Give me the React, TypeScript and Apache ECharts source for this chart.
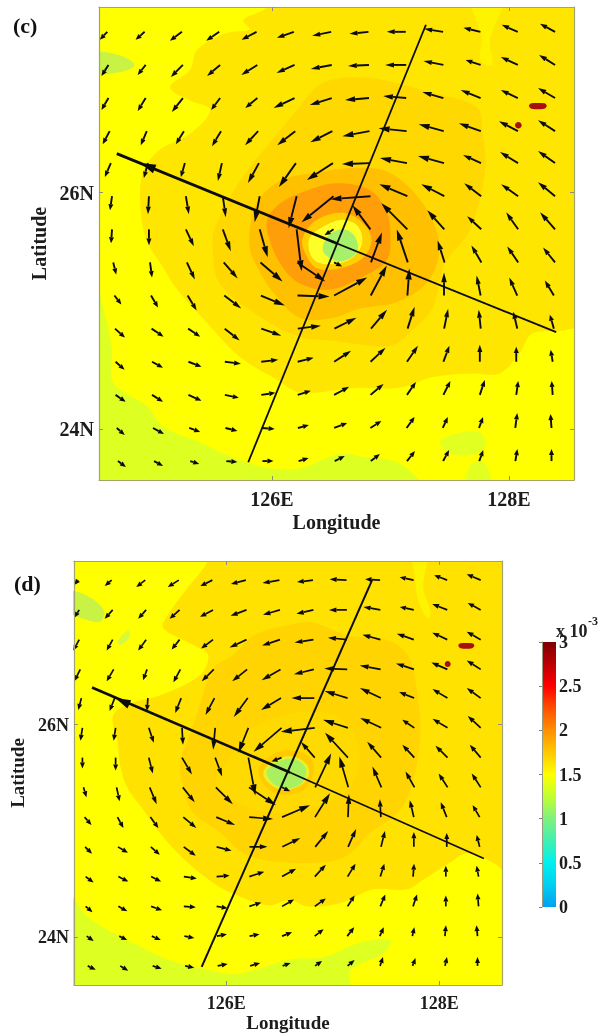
import React, { useEffect, useRef } from "react";
import * as echarts from "echarts";

const FONT = '"Liberation Serif", "Times New Roman", serif';
const INK = "#1c1c1c";
const FRAME = "#A3A36C";

const lonTicks = [126, 128];
const latTicks = [24, 26];
const barTickStep = 0.5;

// Quiver tails: one latitude per row, first/last tail longitude per row.
const rowLat = [27.36, 27.08, 26.8, 26.52, 26.25, 25.97, 25.69, 25.41, 25.13, 24.85, 24.57, 24.29, 24.01, 23.73];
const rowLonStart = [124.61, 124.62, 124.62, 124.63, 124.64, 124.65, 124.65, 124.66, 124.67, 124.675, 124.68, 124.68, 124.69, 124.7];
const rowLonEnd = [128.39, 128.39, 128.39, 128.39, 128.39, 128.39, 128.39, 128.39, 128.38, 128.38, 128.37, 128.37, 128.36, 128.36];

const uC = [
  [-7.5, -9, -12, -13, -15, -17, -19, -19, -19, -19, -17, -16, -15],
  [-7, -8, -12, -13, -16, -18, -21, -21, -21, -20, -15, -17, -16],
  [-7, -8, -11, -9, -12, -21, -22, -24, -23, -21, -20, -17, -17],
  [-7, -6, -8, -9, -13, -18, -22, -27, -28, -25, -22, -19, -17],
  [-6, -4, -4, -4, -11, -17, -26, -28, -27, -26, -18, -18, -17],
  [-2, -1, 3, 3, -5, -8, -32, -40, -28, -23, -17, -17, -17],
  [-1, 0, 8, 8, 8, 5, -9, -18, -26, -17, -14, -12, -15],
  [3, 2, 8, 14, 22, 28, 8, 11, -11, -7, -10, -11, -12],
  [7, 7, 9, 17, 24, 32, 33, 16, 2, 0, -4, -8, -9],
  [10, 12, 12, 15, 20, 23, 22, 16, 7, 4, -2, -4, -4],
  [9, 11, 13, 16, 17, 16, 17, 15, 11, 6, 0, 0, -2],
  [10, 11, 13, 14, 14, 13, 15, 13, 9, 7, 5, 2, -1],
  [8, 11, 11, 12, 13, 11, 13, 11, 8, 5, 4, 2, -1],
  [8, 9, 9, 11, 11, 10, 10, 9, 8, 6, 4, 2, 0],
];
const vC = [
  [-8, -8, -9, -9, -8, -6, -4, -2, 0, 3, 4, 7, 8],
  [-11, -10, -12, -11, -10, -8, -4, -1, 0, 4, 5, 8, 10],
  [-12, -13, -14, -12, -10, -10, -7, -2, 2, 6, 8, 8, 10],
  [-13, -14, -13, -15, -14, -14, -11, -5, 3, 7, 8, 10, 11],
  [-14, -15, -14, -18, -20, -24, -17, -1, 5, 7, 8, 11, 12],
  [-14, -18, -18, -21, -26, -32, -26, -3, 12, 12, 13, 12, 14],
  [-14, -16, -17, -22, -28, -42, -6, 24, 26, 19, 13, 17, 17],
  [-12, -15, -17, -16, -19, -19, -4, 30, 33, 22, 17, 16, 15],
  [-9, -12, -15, -13, -10, -1, 18, 30, 27, 23, 20, 18, 15],
  [-9, -8, -8, -12, -7, 3, 11, 19, 22, 20, 19, 17, 14],
  [-8, -6, -5, -2, 2, 4, 11, 14, 16, 16, 17, 15, 12],
  [-7, -7, -6, -3, 2, 4, 8, 11, 13, 14, 15, 14, 14],
  [-7, -6, -4, -3, -1, 3, 5, 7, 11, 11, 11, 15, 14],
  [-6, -5, -3, -1, 0, 3, 5, 7, 10, 11, 11, 12, 12],
];

const uD = [
  [-4, -7, -9, -11, -12, -15, -17, -16, -17, -15, -14, -13, -14],
  [-5, -8, -8, -10, -13, -16, -17, -17, -18, -17, -14, -15, -13],
  [-6, -6, -8, -8, -12, -17, -18, -19, -19, -18, -17, -15, -14],
  [-6, -7, -4, -7, -12, -15, -19, -20, -23, -21, -18, -16, -14],
  [-3, -5, -1, -6, -9, -14, -20, -23, -23, -21, -15, -15, -14],
  [-2, -2, 5, 1, -2, -10, -28, -34, -25, -21, -12, -15, -13],
  [0, 0, 4, 10, 7, 7, -10, -14, -23, -14, -12, -12, -11],
  [3, 3, 7, 12, 17, 27, 8, 16, -9, -9, -9, -9, -9],
  [7, 6, 8, 13, 19, 24, 28, 15, 1, -1, -4, -6, -7],
  [7, 10, 9, 12, 15, 18, 18, 13, 8, 4, 0, 0, -3],
  [8, 10, 10, 13, 13, 15, 14, 11, 8, 4, 1, 0, -2],
  [7, 9, 11, 12, 11, 12, 12, 11, 7, 5, 4, 0, -1],
  [7, 8, 9, 10, 10, 10, 10, 9, 7, 4, 2, 1, -1],
  [8, 8, 9, 9, 10, 10, 8, 7, 7, 3, 3, 2, 0],
];
const vD = [
  [-5, -6, -7, -7, -6, -4, -3, -2, 1, 1, 3, 5, 6],
  [-8, -9, -9, -9, -7, -6, -5, -4, 0, 3, 3, 6, 7],
  [-11, -11, -11, -10, -9, -8, -6, -3, 2, 5, 6, 7, 8],
  [-12, -12, -11, -13, -12, -12, -11, -5, 1, 4, 6, 7, 9],
  [-12, -13, -13, -15, -17, -19, -12, 0, 7, 10, 6, 9, 10],
  [-13, -13, -15, -17, -22, -25, -24, -4, 8, 10, 8, 9, 12],
  [-11, -13, -16, -17, -19, -38, -4, 16, 25, 16, 13, 12, 13],
  [-10, -14, -17, -15, -17, -18, -4, 34, 31, 21, 16, 14, 14],
  [-8, -11, -11, -11, -8, -2, 12, 24, 23, 18, 17, 15, 12],
  [-7, -6, -8, -9, -4, 0, 9, 16, 18, 16, 15, 14, 12],
  [-6, -5, -5, -2, 1, 5, 8, 12, 13, 13, 13, 11, 11],
  [-6, -5, -4, -1, -2, 4, 7, 8, 11, 12, 12, 11, 13],
  [-5, -4, -4, -2, 2, 2, 4, 7, 9, 9, 9, 11, 11],
  [-4, -5, -3, -2, 2, 3, 3, 5, 6, 9, 8, 9, 9],
];

// Transects, [lon, lat]
const transectAC = [[124.69, 26.33], [126.55, 25.57]];
const transectAC2 = [[126.55, 25.57], [128.4, 24.82]];
const transectBC = [[125.8, 23.72], [127.3, 27.42]];
const transectAD = [[124.74, 26.35], [126.6, 25.55]];
const transectAD2 = [[126.6, 25.55], [128.42, 24.74]];
const transectBD = [[125.77, 23.72], [127.37, 27.36]];
const headC = [124.89, 26.25, 125.01, 26.2];
const headD = [124.96, 26.25, 125.09, 26.19];

// Filled contour outlines, [lon, lat]
const cBand = [[124.5, 25.29], [124.58, 25.01], [124.65, 24.67], [124.66, 24.39], [124.95, 24.19], [125.08, 24.02], [125.39, 23.89], [125.67, 23.76], [125.98, 23.67], [126.24, 23.67], [126.57, 23.79], [126.8, 23.76], [127.08, 23.71], [127.25, 23.5], [124.5, 23.5]];
const cPatchTL = [[124.5, 27.18], [124.72, 27.16], [124.84, 27.08], [124.72, 27.02], [124.5, 27.02]];
const cPatchBR = [[127.42, 23.9], [127.59, 23.97], [127.76, 23.97], [127.8, 23.85], [127.67, 23.78], [127.5, 23.8]];
const cPatchB = [[127.65, 23.5], [127.67, 23.69], [127.8, 23.71], [127.84, 23.5]];
const cGold = [[125.98, 27.7], [125.96, 27.57], [125.76, 27.46], [125.81, 27.38], [125.62, 27.35], [125.37, 27.21], [125.31, 27.04], [125.14, 26.89], [125.31, 26.78], [125.48, 26.7], [125.31, 26.5], [125.05, 26.36], [124.91, 26.17], [124.89, 25.88], [124.94, 25.6], [125.08, 25.37], [125.2, 25.18], [125.45, 24.9], [125.73, 24.61], [126.04, 24.42], [126.24, 24.31], [126.72, 24.35], [127.08, 24.35], [127.36, 24.44], [127.7, 24.47], [127.92, 24.47], [128.09, 24.64], [128.2, 24.81], [128.49, 24.84], [128.7, 24.95], [128.7, 27.7]];
const cStrip = [[127.67, 27.7], [127.97, 27.7], [127.84, 27.29], [127.86, 27.08], [127.76, 27.12], [127.77, 27.31]];
const cAmber = [[126.43, 26.93], [126.21, 26.7], [125.98, 26.42], [125.73, 26.1], [125.52, 25.71], [125.5, 25.51], [125.56, 25.23], [125.9, 24.95], [126.24, 24.78], [126.51, 24.75], [126.8, 24.71], [127.02, 24.71], [127.19, 24.84], [127.36, 25.03], [127.46, 25.4], [127.67, 25.68], [127.8, 26.19], [127.78, 26.49], [127.73, 26.72], [127.33, 26.85], [126.83, 26.97]];
const cOrange = [[125.84, 25.83], [125.92, 25.98], [126.09, 26.11], [126.38, 26.17], [126.72, 26.21], [126.99, 26.17], [127.25, 25.94], [127.4, 25.64], [127.39, 25.39], [127.27, 25.2], [127.04, 25.07], [126.74, 25.02], [126.51, 24.94], [126.24, 24.94], [126.03, 25.13], [125.88, 25.36], [125.81, 25.55]];
const cDeep = [[125.96, 25.77], [126.07, 25.91], [126.3, 26.02], [126.55, 26.08], [126.83, 26.02], [126.97, 25.83], [127.0, 25.62], [126.97, 25.43], [126.77, 25.29], [126.49, 25.18], [126.24, 25.23], [126.09, 25.37], [125.98, 25.6]];
const cCore1 = [[126.26, 25.62], [126.38, 25.77], [126.6, 25.83], [126.77, 25.74], [126.84, 25.6], [126.77, 25.45], [126.57, 25.36], [126.38, 25.36], [126.28, 25.49]];
const cCore2 = [[126.32, 25.62], [126.43, 25.71], [126.6, 25.77], [126.73, 25.71], [126.76, 25.57], [126.68, 25.45], [126.55, 25.4], [126.39, 25.41], [126.32, 25.49]];
const cCore3 = [[126.47, 25.63], [126.6, 25.69], [126.7, 25.63], [126.72, 25.5], [126.6, 25.42], [126.5, 25.44], [126.43, 25.51]];
const cSpotBar = [[128.19, 26.755], [128.3, 26.755], [128.32, 26.735], [128.3, 26.71], [128.19, 26.71], [128.17, 26.735]];
const cSpotDot = [[128.08, 26.598], [128.1, 26.59], [128.108, 26.57], [128.1, 26.55], [128.08, 26.542], [128.06, 26.55], [128.052, 26.57], [128.06, 26.59]];

// Filled contour outlines, [lon, lat]
const dBand = [[124.5, 24.42], [124.7, 24.19], [124.94, 24.04], [125.2, 23.91], [125.45, 23.79], [125.83, 23.69], [126.07, 23.65], [126.26, 23.69], [126.6, 23.79], [126.91, 23.81], [127.26, 23.95], [127.54, 23.97], [127.48, 23.85], [127.17, 23.69], [127.14, 23.5], [124.5, 23.5]];
const dPatchTL = [[124.5, 27.25], [124.68, 27.22], [124.85, 27.08], [124.82, 26.97], [124.68, 26.99], [124.5, 27.08]];
const dPatchT2 = [[124.98, 26.78], [125.08, 26.89], [125.09, 26.82], [125.01, 26.75]];
const dGold = [[125.85, 27.7], [125.83, 27.54], [125.64, 27.29], [125.45, 27.03], [125.41, 26.91], [125.69, 26.75], [125.83, 26.66], [125.76, 26.47], [125.39, 26.28], [125.13, 26.21], [124.94, 26.09], [124.98, 25.84], [125.01, 25.59], [125.08, 25.39], [125.2, 25.23], [125.41, 24.94], [125.64, 24.7], [125.88, 24.51], [126.04, 24.42], [126.39, 24.3], [126.6, 24.35], [126.76, 24.29], [127.07, 24.32], [127.38, 24.45], [127.7, 24.45], [127.85, 24.54], [128.1, 24.7], [128.26, 24.79], [128.51, 24.7], [128.7, 24.57], [128.7, 27.7]];
const dStrip = [[127.73, 27.7], [127.9, 27.7], [127.85, 27.29], [127.92, 27.06], [127.89, 27.0], [127.8, 27.18], [127.77, 27.41]];
const dAmber = [[126.6, 26.94], [126.26, 26.84], [126.07, 26.66], [125.88, 26.53], [125.76, 26.21], [125.67, 25.93], [125.57, 25.65], [125.6, 25.4], [125.69, 25.17], [125.95, 24.98], [126.16, 24.79], [126.48, 24.71], [126.95, 24.71], [127.17, 24.79], [127.35, 24.98], [127.61, 25.17], [127.73, 25.39], [127.82, 25.86], [127.79, 26.33], [127.7, 26.66], [127.51, 26.8], [127.14, 26.84], [126.82, 26.96]];
const dRing = [[126.04, 25.7], [126.14, 25.88], [126.39, 26.04], [126.76, 26.12], [127.07, 26.06], [127.23, 25.83], [127.23, 25.55], [127.07, 25.32], [126.7, 25.18], [126.28, 25.2], [125.99, 25.34], [125.9, 25.48]];
const dCore1 = [[126.3, 25.57], [126.42, 25.71], [126.6, 25.76], [126.79, 25.69], [126.82, 25.55], [126.73, 25.39], [126.54, 25.34], [126.39, 25.4]];
const dCore2 = [[126.35, 25.55], [126.46, 25.67], [126.63, 25.7], [126.76, 25.62], [126.77, 25.51], [126.67, 25.41], [126.51, 25.39], [126.4, 25.45]];
const dCore3 = [[126.38, 25.56], [126.51, 25.66], [126.66, 25.67], [126.75, 25.58], [126.71, 25.45], [126.58, 25.4], [126.45, 25.44]];
const dSpotBar = [[128.2, 26.765], [128.31, 26.765], [128.33, 26.745], [128.31, 26.72], [128.2, 26.72], [128.18, 26.745]];
const dSpotDot = [[128.08, 26.598], [128.1, 26.59], [128.108, 26.57], [128.1, 26.55], [128.08, 26.542], [128.06, 26.55], [128.052, 26.57], [128.06, 26.59]];

const barStopValues = [0, 0.25, 0.5, 0.75, 1, 1.25, 1.5, 1.75, 2, 2.25, 2.5, 2.8, 3];
const barStopColors = ["#00A0F0", "#00D0F0", "#00F0F0", "#40F0B0", "#80F080", "#C0FF30", "#FFFF00", "#FFC800", "#FF9000", "#FF5000", "#FF0000", "#B00000", "#800000"];

const contoursC: [number[][], string][] = [
  [cBand, "#DEFF22"], [cPatchTL, "#C8F244"], [cPatchBR, "#E2FF22"], [cPatchB, "#E2FF22"],
  [cGold, "#FFE600"], [cStrip, "#FFF400"], [cAmber, "#FFD800"], [cOrange, "#FFC000"], [cDeep, "#FF9E08"],
  [cCore1, "#FFD000"], [cCore2, "#FFFF28"], [cCore3, "#A6F06A"],
  [cSpotBar, "#A81010"], [cSpotDot, "#A81010"],
];
const contoursD: [number[][], string][] = [
  [dBand, "#DEFF22"], [dPatchTL, "#C8F244"], [dPatchT2, "#D8F83A"],
  [dGold, "#FFE200"], [dStrip, "#FFF400"], [dAmber, "#FFD400"], [dRing, "#FFDA00"],
  [dCore1, "#FFCA00"], [dCore2, "#E6F22C"], [dCore3, "#A8F060"],
  [dSpotBar, "#A81010"], [dSpotDot, "#A81010"],
];

const quiverData = (u: number[][], v: number[][]) => {
  const out: number[][] = [];
  rowLat.forEach((lat, j) => {
    u[j].forEach((uu, i) => {
      const lon = rowLonStart[j] + ((rowLonEnd[j] - rowLonStart[j]) * i) / 12;
      out.push([lon, lat, uu, v[j][i]]);
    });
  });
  return out;
};

const arrowItem = (q: number, lw: number) => (_: any, api: any) => {
  const lon = api.value(0), lat = api.value(1);
  const a = api.coord([lon, lat]);
  const b = api.coord([lon + api.value(2) * q, lat + api.value(3) * q]);
  const dx = b[0] - a[0], dy = b[1] - a[1];
  const L = Math.hypot(dx, dy) || 1;
  const ux = dx / L, uy = dy / L;
  const hl = Math.min(11, Math.max(6, L * 0.42));
  const hw = Math.min(3.2, Math.max(2.5, L * 0.12));
  const bx = b[0] - ux * hl, by = b[1] - uy * hl;
  return {
    type: "group",
    children: [
      { type: "line", shape: { x1: a[0], y1: a[1], x2: bx, y2: by }, style: { stroke: "#0c0c0c", lineWidth: lw } },
      { type: "polygon", shape: { points: [[b[0], b[1]], [bx - uy * hw, by + ux * hw], [bx + uy * hw, by - ux * hw]] }, style: { fill: "#0c0c0c" } },
    ],
  };
};

const contourSeries = (list: [number[][], string][], g: number) => ({
  type: "custom",
  xAxisIndex: g,
  yAxisIndex: g,
  clip: true,
  silent: true,
  z: 2,
  data: list.map((_, i) => [i, i]),
  renderItem: (_: any, api: any) => {
    const [pts, color] = list[api.value(0)];
    return {
      type: "polygon",
      shape: { points: pts.map((p) => api.coord(p)), smooth: 0.35 },
      style: { fill: color },
    };
  },
});

const lineSeries = (pts: number[][], g: number, width: number) => ({
  type: "line",
  xAxisIndex: g,
  yAxisIndex: g,
  data: pts,
  showSymbol: false,
  silent: true,
  z: 3,
  lineStyle: { color: "#0c0c0c", width },
});

const headSeries = (h: number[], g: number) => ({
  type: "custom",
  xAxisIndex: g,
  yAxisIndex: g,
  silent: true,
  z: 4,
  data: [h],
  renderItem: (_: any, api: any) => {
    const tip = api.coord([api.value(0), api.value(1)]);
    const base = api.coord([api.value(2), api.value(3)]);
    const dx = base[0] - tip[0], dy = base[1] - tip[1];
    const L = Math.hypot(dx, dy) || 1;
    const nx = -dy / L, ny = dx / L;
    return {
      type: "polygon",
      shape: { points: [tip, [base[0] + nx * 4.5, base[1] + ny * 4.5], [base[0] - nx * 4.5, base[1] - ny * 4.5]] },
      style: { fill: "#0c0c0c" },
    };
  },
});

const quiverSeries = (u: number[][], v: number[][], g: number, q: number, lw: number) => ({
  type: "custom",
  xAxisIndex: g,
  yAxisIndex: g,
  clip: true,
  silent: true,
  z: 5,
  data: quiverData(u, v),
  renderItem: arrowItem(q, lw),
});

const labelStyle = (size: number) => ({ fontFamily: FONT, fontWeight: "bold" as const, fontSize: size, color: INK });
const tick = { show: true, inside: true, length: 4, lineStyle: { color: "#8f8f70", width: 1 } };

const panelAxes = (
  gridIndex: number, lonMin: number, lonMax: number, latMin: number, latMax: number,
  labelSize: number, nameSize: number, nameGapX: number, nameGapY: number,
) => {
  const axisLine = { show: true, onZero: false, lineStyle: { color: FRAME, width: 1.2 } };
  const nameStyle = { fontFamily: FONT, fontWeight: "bold" as const, fontSize: nameSize, color: INK };
  const x = (position: string, main: boolean) => ({
    type: "value", gridIndex, position, min: lonMin, max: lonMax, z: 10,
    splitLine: { show: false }, axisLine,
    axisTick: { ...tick, customValues: lonTicks },
    axisLabel: main
      ? { show: true, customValues: lonTicks, margin: 9, formatter: (v: number) => `${v}E`, ...labelStyle(labelSize) }
      : { show: false },
    ...(main ? { name: "Longitude", nameLocation: "middle", nameGap: nameGapX, nameTextStyle: nameStyle } : {}),
  });
  const y = (position: string, main: boolean) => ({
    type: "value", gridIndex, position, min: latMin, max: latMax, z: 10,
    splitLine: { show: false }, axisLine,
    axisTick: { ...tick, customValues: latTicks },
    axisLabel: main
      ? { show: true, customValues: latTicks, margin: 5, formatter: (v: number) => `${v}N`, ...labelStyle(labelSize) }
      : { show: false },
    ...(main ? { name: "Latitude", nameLocation: "middle", nameGap: nameGapY, nameTextStyle: nameStyle } : {}),
  });
  return { xs: [x("bottom", true), x("top", false)], ys: [y("left", true), y("right", false)] };
};

export default function App() {
  const ref = useRef<HTMLDivElement>(null);
  useEffect(() => {
    const chart = echarts.init(ref.current!, undefined, { renderer: "svg" });
    const c = panelAxes(0, 124.54, 128.55, 23.57, 27.57, 20, 20, 32, 47);
    const d = panelAxes(1, 124.57, 128.59, 23.55, 27.54, 18, 19, 28, 43);
    const xAxis: any[] = [
      c.xs[0], d.xs[0],
      { type: "value", gridIndex: 2, min: 0, max: 1, z: 10, show: false },
      c.xs[1], d.xs[1],
    ];
    const yAxis: any[] = [
      c.ys[0], d.ys[0],
      {
        type: "value", gridIndex: 2, position: "right", min: 0, max: 3, interval: barTickStep, z: 10,
        splitLine: { show: false },
        axisLine: { show: true, lineStyle: { color: "#9a9a80", width: 1 } },
        axisTick: { show: true, inside: true, length: 3, lineStyle: { color: "#808070" } },
        axisLabel: { margin: 3, ...labelStyle(18) },
      },
      c.ys[1], d.ys[1],
    ];
    chart.setOption({
      animation: false,
      backgroundColor: "#ffffff",
      grid: [
        { left: 99, top: 7, width: 475, height: 473, show: true, backgroundColor: "#FFFF00", borderWidth: 0 },
        { left: 73, top: 561, width: 429, height: 424, show: true, backgroundColor: "#FFFF00", borderWidth: 0 },
        { left: 542, top: 642, width: 14, height: 265, show: false },
      ],
      xAxis,
      yAxis,
      series: [
        contourSeries(contoursC, 0),
        contourSeries(contoursD, 1),
        lineSeries(transectAC, 0, 2.8),
        lineSeries(transectAC2, 0, 1.8),
        lineSeries(transectBC, 0, 1.8),
        lineSeries(transectAD, 1, 2.6),
        lineSeries(transectAD2, 1, 1.6),
        lineSeries(transectBD, 1, 2),
        headSeries(headC, 0),
        headSeries(headD, 1),
        quiverSeries(uC, vC, 0, 1 / 118.45, 1.9),
        quiverSeries(uD, vD, 1, 1 / 106.7, 1.7),
        {
          type: "custom",
          xAxisIndex: 2,
          yAxisIndex: 2,
          silent: true,
          z: 2,
          data: [[0, 0, 1, 3]],
          renderItem: (_: any, api: any) => {
            const p0 = api.coord([api.value(0), api.value(1)]);
            const p1 = api.coord([api.value(2), api.value(3)]);
            return {
              type: "rect",
              shape: { x: p0[0], y: p1[1], width: p1[0] - p0[0], height: p0[1] - p1[1] },
              style: {
                fill: new echarts.graphic.LinearGradient(
                  0, 1, 0, 0,
                  barStopValues.map((v, i) => ({ offset: v / 3, color: barStopColors[i] })),
                ),
              },
            };
          },
        },
      ],
      graphic: [
        { type: "text", x: 13, y: 14, style: { text: "(c)", fontFamily: FONT, fontWeight: "bold", fontSize: 22, fill: "#111" } },
        { type: "text", x: 14, y: 572, style: { text: "(d)", fontFamily: FONT, fontWeight: "bold", fontSize: 22, fill: "#111" } },
        { type: "text", x: 556, y: 622, style: { text: "x 10", fontFamily: FONT, fontWeight: "bold", fontSize: 18, fill: "#222" } },
        { type: "text", x: 588, y: 615, style: { text: "-3", fontFamily: FONT, fontWeight: "bold", fontSize: 12, fill: "#222" } },
      ],
    });
    return () => chart.dispose();
  }, []);
  return <div ref={ref} style={{ position: "fixed", left: 0, top: 0, width: 613, height: 1035, filter: "blur(0.4px)" }} />;
}
